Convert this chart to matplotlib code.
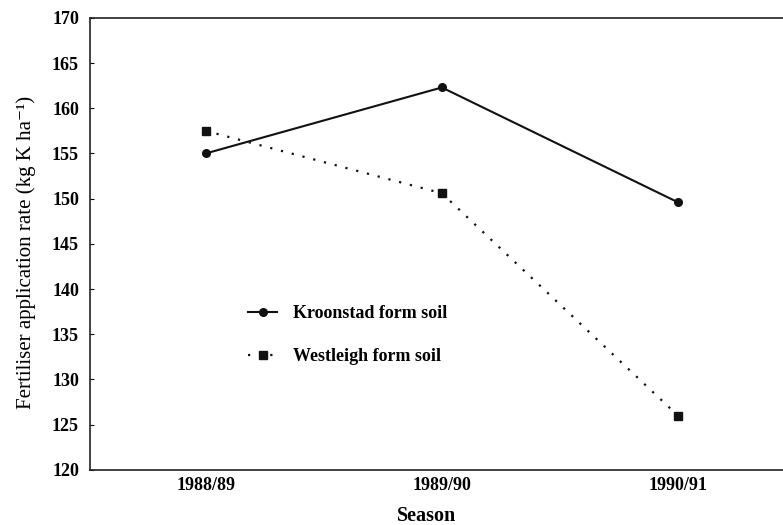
import matplotlib.pyplot as plt

seasons = ["1988/89", "1989/90", "1990/91"]
kroonstad = [155.0, 162.3, 149.6]
westleigh = [157.5, 150.6, 126.0]

plt.rcParams["font.family"] = ["Liberation Serif", "DejaVu Serif"]

fig = plt.figure(figsize=(7.83, 5.25), dpi=100)
ax = fig.add_axes([0.115, 0.105, 0.885, 0.861])

x = range(len(seasons))
ax.plot(x, kroonstad, color="#111111", linewidth=1.5, marker="o", markersize=5.5,
        label="Kroonstad form soil")
ax.plot(x, westleigh, color="#111111", linewidth=1.6, linestyle=(0, (1, 4)), marker="s",
        markersize=5.5, label="Westleigh form soil")

ax.set_xlim(-0.49, 2.445)
ax.set_ylim(120, 170)
ax.set_yticks(range(120, 171, 5))
ax.set_xticks(list(x), seasons)

ax.spines["right"].set_visible(False)
for side in ("left", "bottom", "top"):
    ax.spines[side].set_linewidth(1.2)
    ax.spines[side].set_color("#222222")

ax.tick_params(axis="y", direction="in", length=3, pad=8, labelsize=13)
ax.tick_params(axis="x", length=0, pad=5, labelsize=13)
for lab in ax.get_xticklabels() + ax.get_yticklabels():
    lab.set_fontweight("bold")

ax.set_xlabel("Season", fontsize=14.5, fontweight="bold")
ax.xaxis.set_label_coords(0.486, -0.08)
ax.set_ylabel("Fertiliser application rate (kg K ha\u207b\u00b9)", fontsize=15)
ax.yaxis.set_label_coords(-0.078, 0.48)

ax.legend(loc="upper left", bbox_to_anchor=(0.205, 0.401), frameon=False,
          prop={"size": 13, "weight": "bold"}, labelspacing=1.45, handlelength=1.6,
          handletextpad=0.9)

fig.savefig("out.png", dpi=100, facecolor="white")
